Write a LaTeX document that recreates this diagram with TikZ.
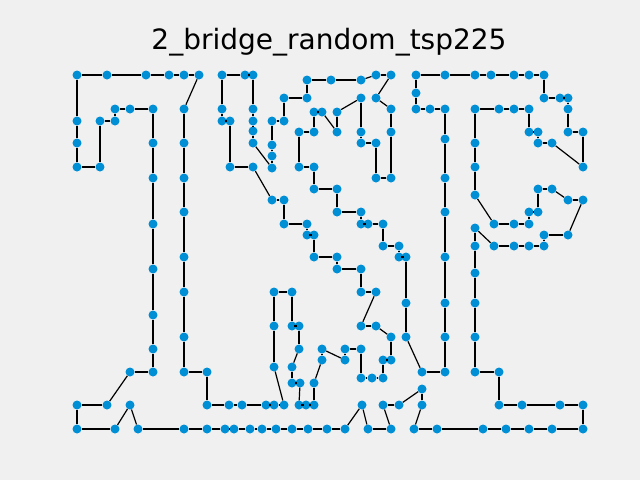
\documentclass[tikz,border=0pt]{standalone}
\usepackage{fontspec}
\setmainfont{DejaVu Sans}
\definecolor{bgc}{HTML}{F0F0F0}
\definecolor{dotc}{HTML}{008FD5}
\begin{document}
\begin{tikzpicture}[x=1pt,y=-1pt,
  pt/.style={circle,fill=dotc,draw=none,inner sep=0pt,minimum size=9pt},
  edge/.style={draw=black,line width=1.2pt},
  ttl/.style={anchor=base,font=\fontsize{28}{34}\selectfont,text=black}]
\fill[bgc] (0,0) rectangle (640,480);
\useasboundingbox (0,0) rectangle (640,480);
\node[ttl] (title) at (329,49) {2\_bridge\_random\_tsp225};
\foreach \i/\x/\y in {
1/77/75,2/107/75,3/146/75,4/169/75,5/184/75,6/199/75,7/184/109,8/184/143,9/184/178,10/184/212,
11/184/257,12/184/292,13/184/337,14/184/372,15/207/372,16/207/405,17/229/405,18/242/405,19/266/405,20/274/405,
21/284/405,22/274/367,23/274/326,24/274/292,25/292/292,26/292/326,27/299/326,28/299/349,29/292/367,30/292/383,
31/300/383,32/299/405,33/306/405,34/314/405,35/314/383,36/322/360,37/322/349,38/345/360,39/345/349,40/361/349,
41/361/378,42/372/378,43/383/378,44/383/360,45/391/360,46/391/337,47/376/326,48/361/326,49/376/292,50/361/292,
51/361/269,52/337/269,53/337/257,54/314/257,55/314/235,56/307/235,57/307/224,58/284/224,59/284/200,60/272/200,
61/253/167,62/230/167,63/230/121,64/222/121,65/222/109,66/222/75,67/245/75,68/253/75,69/253/109,70/253/121,
71/253/131,72/253/143,73/272/168,74/272/156,75/272/145,76/272/121,77/284/121,78/284/98,79/307/98,80/307/80,
81/331/80,82/361/80,83/376/75,84/391/75,85/376/98,86/391/109,87/391/132,88/391/178,89/376/178,90/376/143,
91/361/143,92/361/132,93/361/98,94/337/112,95/337/132,96/322/112,97/314/112,98/314/132,99/299/132,100/299/167,
101/314/167,102/314/189,103/337/189,104/337/212,105/361/212,106/361/224,107/368/224,108/383/224,109/383/246,110/399/246,
111/399/257,112/406/257,113/406/303,114/406/337,115/422/372,116/445/372,117/445/337,118/445/303,119/445/257,120/445/212,
121/445/178,122/445/139,123/445/109,124/430/109,125/416/109,126/416/93,127/416/75,128/445/75,129/475/75,130/491/75,
131/514/75,132/529/75,133/544/75,134/544/98,135/560/98,136/568/98,137/568/109,138/568/132,139/583/132,140/583/167,
141/552/143,142/538/143,143/538/132,144/529/132,145/529/109,146/514/109,147/499/109,148/475/109,149/475/143,150/475/167,
151/475/195,152/494/224,153/514/224,154/529/224,155/529/212,156/538/212,157/538/189,158/552/189,159/568/200,160/583/200,
161/568/235,162/544/235,163/544/246,164/529/246,165/514/246,166/494/246,167/475/228,168/475/246,169/475/273,170/475/303,
171/475/337,172/475/372,173/499/372,174/499/405,175/522/405,176/560/405,177/583/405,178/583/429,179/552/429,180/529/429,
181/506/429,182/483/429,183/437/429,184/414/429,185/422/405,186/422/389,187/399/405,188/383/405,189/391/429,190/368/429,
191/362/405,192/345/429,193/327/429,194/308/429,195/292/429,196/276/429,197/262/429,198/250/429,199/234/429,200/225/429,
201/207/429,202/184/429,203/138/429,204/130/405,205/115/429,206/77/429,207/77/405,208/107/405,209/130/372,210/153/372,
211/153/349,212/153/315,213/153/269,214/153/224,215/153/178,216/153/143,217/153/109,218/130/109,219/115/109,220/115/121,
221/100/121,222/100/167,223/77/167,224/77/143,225/77/121}
  \node[pt] (p\i) at (\x,\y) {};
\foreach \i in {1,...,224}{
  \pgfmathtruncatemacro\j{\i+1}
  \draw[edge] (p\i) -- (p\j);
}
\draw[edge] (p225) -- (p1);
\end{tikzpicture}
\end{document}
